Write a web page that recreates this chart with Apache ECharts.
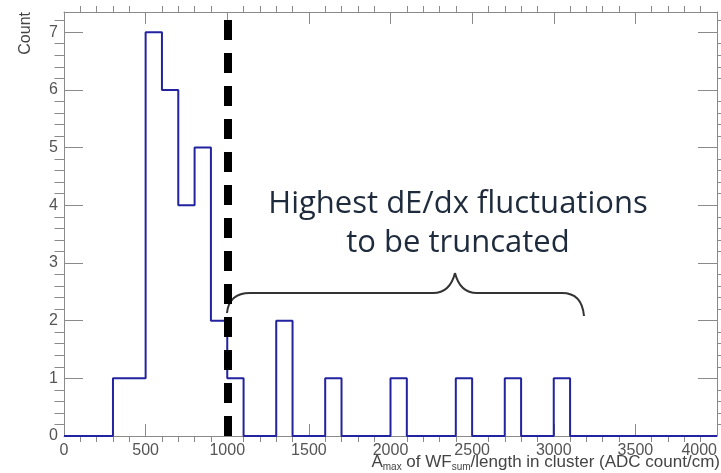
<!DOCTYPE html>
<html>
<head>
    <meta charset="utf-8">
    <title>Amax histogram</title>
    <script src="https://cdn.jsdelivr.net/npm/echarts@6/dist/echarts.min.js"></script>
    <style>
        html, body { margin: 0; padding: 0; background: #fff; }
        #main { width: 721px; height: 473px; }
    </style>
</head>
<body>
<div id="main"></div>
<script type="text/javascript">
    // histogram: 40 bins of 100 from 0 to 4000
    var binStart = 0;
    var binWidth = 100;
    var counts = [
        0, 0, 0, 1, 1, 7, 6, 4, 5, 2,
        1, 0, 0, 2, 0, 0, 1, 0, 0, 0,
        1, 0, 0, 0, 1, 0, 0, 1, 0, 0,
        1, 0, 0, 0, 0, 0, 0, 0, 0, 0
    ];
    var xTicks = [0, 500, 1000, 1500, 2000, 2500, 3000, 3500, 4000];
    var yTicks = [0, 1, 2, 3, 4, 5, 6, 7];
    var cutValue = 1000;   // dashed truncation line
    var yMax = 7.35;

    // step points at bin left edges + closing point
    var stepData = [];
    for (var i = 0; i < counts.length; i++) {
        stepData.push([binStart + i * binWidth, counts[i]]);
    }
    stepData.push([binStart + counts.length * binWidth, 0]);

    var axisGray = '#8a8a8a';
    var labelFont = 'Liberation Sans, Arial, sans-serif';
    var braceStyle = {stroke: '#333', lineWidth: 2, fill: null};
    var plain = function (v) { return String(v); };

    // frame axis helpers (ROOT style: ticks pointing into the frame)
    // minorTick ignores axisTick.inside, so a negative length flips it inward
    function tickSet(len) {
        return {
            axisTick: {show: true, inside: true, length: len, lineStyle: {color: axisGray}},
            minorTick: {show: true, splitNumber: 5, length: -len / 2, lineStyle: {color: axisGray}}
        };
    }

    var myChart = echarts.init(document.getElementById('main'));
    myChart.setOption({
        animation: false,
        grid: {left: 64, right: 4, top: 12, bottom: 37, containLabel: false, outerBoundsMode: 'none'},
        xAxis: [Object.assign({
            type: 'value',
            min: xTicks[0], max: xTicks[xTicks.length - 1], interval: 500,
            axisLine: {show: true, onZero: false, lineStyle: {color: axisGray}},
            splitLine: {show: false},
            axisLabel: {color: '#555', fontSize: 16, fontFamily: labelFont, margin: 7,
                formatter: plain, alignMaxLabel: 'right'}
        }, tickSet(12)), Object.assign({
            type: 'value', position: 'top',
            min: xTicks[0], max: xTicks[xTicks.length - 1], interval: 500,
            axisLine: {show: true, onZero: false, lineStyle: {color: axisGray}},
            splitLine: {show: false},
            axisLabel: {show: false}
        }, tickSet(12))],
        yAxis: [Object.assign({
            type: 'value',
            min: 0, max: yMax, interval: 1,
            axisLine: {show: true, onZero: false, lineStyle: {color: axisGray}},
            splitLine: {show: false},
            axisLabel: {color: '#555', fontSize: 16, fontFamily: labelFont, margin: 6,
                showMaxLabel: false, formatter: plain}
        }, tickSet(19)), Object.assign({
            type: 'value', position: 'right',
            min: 0, max: yMax, interval: 1,
            axisLine: {show: true, onZero: false, lineStyle: {color: axisGray}},
            splitLine: {show: false},
            axisLabel: {show: false}
        }, tickSet(19))],
        series: [{
            name: 'Count',
            type: 'line',
            step: 'end',
            data: stepData,
            symbol: 'none',
            lineStyle: {color: '#2323a0', width: 2},
            z: 3,
            markLine: {
                silent: true,
                symbol: 'none',
                label: {show: false},
                lineStyle: {color: '#000', width: 8, type: [20, 13]},
                data: [{xAxis: cutValue}],
                z: 4
            }
        }],
        graphic: [{
            type: 'text',
            left: 18, top: 12,
            rotation: Math.PI / 2,
            style: {text: 'Count', fill: '#444', font: '16px Liberation Sans, Arial, sans-serif'}
        }, {
            type: 'text',
            right: 1, top: 454,
            style: {
                text: 'A{sub|max} of WF{sub|sum}/length in cluster (ADC count/cm)',
                fill: '#444',
                font: '17px Liberation Sans, Arial, sans-serif',
                rich: {sub: {fontSize: 10, fill: '#444', verticalAlign: 'bottom', padding: [10, 0, 0, 0]}}
            }
        },
        // curly brace
        {type: 'bezierCurve', shape: {x1: 227, y1: 313, cpx1: 229, cpy1: 293, x2: 250, y2: 293}, style: braceStyle},
        {type: 'line', shape: {x1: 250, y1: 293, x2: 433, y2: 293}, style: braceStyle},
        {type: 'bezierCurve', shape: {x1: 433, y1: 293, cpx1: 450, cpy1: 293, x2: 455, y2: 273}, style: braceStyle},
        {type: 'bezierCurve', shape: {x1: 455, y1: 273, cpx1: 460, cpy1: 293, x2: 477, y2: 293}, style: braceStyle},
        {type: 'line', shape: {x1: 477, y1: 293, x2: 562, y2: 293}, style: braceStyle},
        {type: 'bezierCurve', shape: {x1: 562, y1: 293, cpx1: 582, cpy1: 293, x2: 584, y2: 316}, style: braceStyle},
        {
            type: 'text',
            x: 458, y: 224,
            style: {
                text: 'Highest dE/dx fluctuations\nto be truncated',
                align: 'center', verticalAlign: 'middle',
                fill: '#1e2b3c', lineHeight: 39,
                font: '31px Open Sans, Lato, sans-serif'
            }
        }]
    });
</script>
</body>
</html>
